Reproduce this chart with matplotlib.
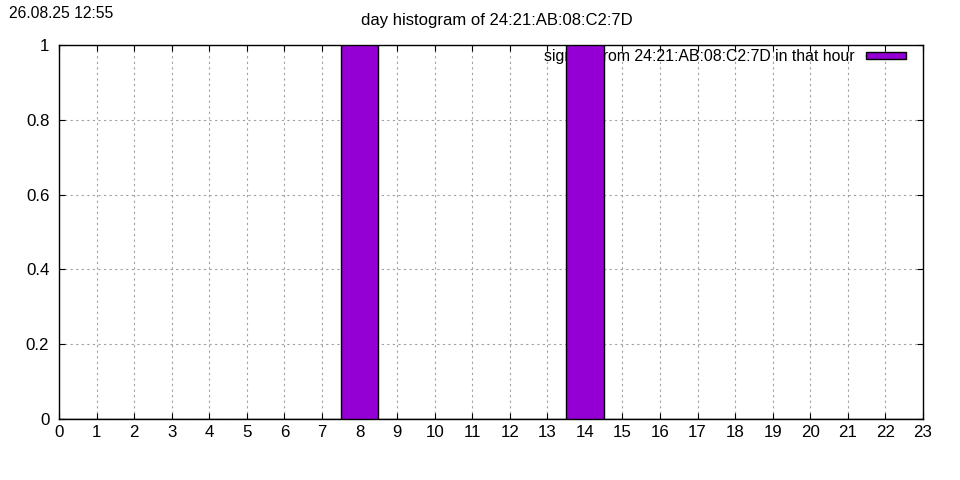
import matplotlib
matplotlib.use("Agg")
import matplotlib.pyplot as plt

plt.rcParams['font.family'] = ['Liberation Sans', 'DejaVu Sans']

hours = list(range(24))
counts = [0, 0, 0, 0, 0, 0, 0, 0, 1, 0, 0, 0, 0, 0, 1, 0, 0, 0, 0, 0, 0, 0, 0, 0]
mac = "24:21:AB:08:C2:7D"
stamp = "26.08.25 12:55"

fig = plt.figure(figsize=(9.6, 4.8), dpi=100)
ax = fig.add_axes([59/960, 61/480, 864/960, 374/480])

ax.bar(hours, counts, width=1.0, color='#9400d3', edgecolor='black', linewidth=1.0,
       zorder=3, label=f"signals from {mac} in that hour")

ax.set_xlim(0, 23)
ax.set_ylim(0, 1)
ax.set_xticks(range(0, 24))
ax.set_yticks([0, 0.2, 0.4, 0.6, 0.8, 1])
ax.set_yticklabels(['0', '0.2', '0.4', '0.6', '0.8', '1'])
ax.tick_params(direction='in', top=True, right=True, length=4, labelsize=12.2)
ax.tick_params(axis='x', pad=4)
ax.tick_params(axis='y', pad=7)
ax.grid(True, color='#a0a0a0', linestyle=(0, (2, 3)), linewidth=0.8, zorder=0)
ax.set_axisbelow(True)
for s in ax.spines.values():
    s.set_linewidth(1.0)

leg = ax.legend(loc='upper right', frameon=False, fontsize=11.45, handlelength=2.5,
                handleheight=0.35, handletextpad=0.7, borderpad=0, borderaxespad=0,
                bbox_to_anchor=((906 - 59) / 864, 1 - 4 / 374),
                markerfirst=False)
leg.set_zorder(2)

fig.text(497/960, 1 - 21/480, f"day histogram of {mac}", ha='center', va='center', fontsize=12)
fig.text(9/960, 1 - 13/480, stamp, ha='left', va='center', fontsize=11.3)

fig.savefig("out.png", dpi=100)
